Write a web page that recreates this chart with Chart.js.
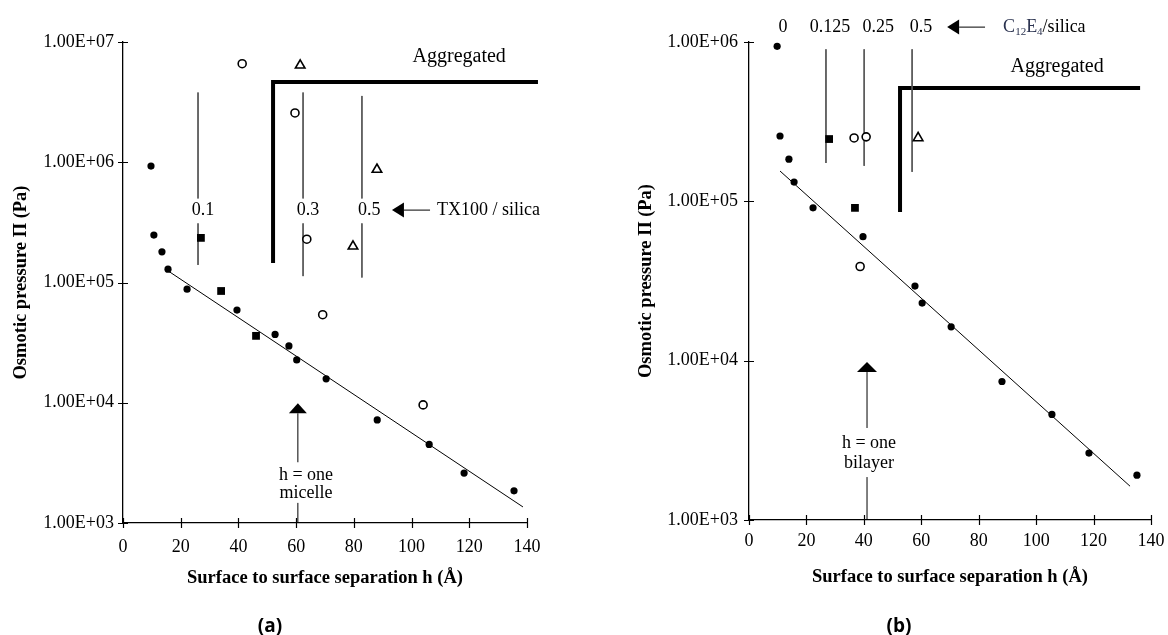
<!DOCTYPE html>
<html>
<head>
<meta charset="utf-8">
<script src="https://cdn.jsdelivr.net/npm/chart.js@4"></script>
<style>
  body { margin: 0; background: #fff; width: 1168px; height: 635px; position: relative; overflow: hidden; }
  canvas { position: absolute; top: 0; }
  #chartA { left: 0; }
  #chartB { left: 600px; }
  .cap { position: absolute; top: 612px; font: bold 19px "Open Sans", sans-serif; transform: translateX(-50%); }
</style>
</head>
<body>
<canvas id="chartA" width="584" height="635"></canvas>
<canvas id="chartB" width="568" height="635"></canvas>
<div class="cap" style="left:270px">(a)</div>
<div class="cap" style="left:899px">(b)</div>
<script>
Chart.defaults.font.family = '"Liberation Serif", "Times New Roman", serif';
Chart.defaults.color = '#000';

const xTicks = [0, 20, 40, 60, 80, 100, 120, 140];

// (a) TX100 / silica
const yTicksA = [1e3, 1e4, 1e5, 1e6, 1e7];
const yLabelsA = ['1.00E+03', '1.00E+04', '1.00E+05', '1.00E+06', '1.00E+07'];
const hA_filled = [9.7, 10.7, 13.5, 15.6, 22.2, 39.5, 52.7, 57.5, 60.2, 70.4, 88.1, 106.1, 118.2, 135.5];
const pA_filled = [9.3e5, 2.48e5, 1.8e5, 1.29e5, 8.8e4, 5.9e4, 3.7e4, 2.97e4, 2.27e4, 1.58e4, 7.2e3, 4.5e3, 2.6e3, 1.85e3];
const hA_square = [27, 34, 46.1];
const pA_square = [2.35e5, 8.5e4, 3.6e4];
const hA_open = [41.3, 59.6, 63.7, 69.2, 104];
const pA_open = [6.6e6, 2.57e6, 2.29e5, 5.4e4, 9.6e3];
const hA_tri = [61.4, 88, 79.7];
const pA_tri = [6.4e6, 8.7e5, 2.0e5];
const hA_fit = [15.6, 138.6];
const pA_fit = [1.25e5, 1.36e3];
const ratioA = ['0.1', '0.3', '0.5'];
const guideA_h = [26, 62.4, 82.8];
const guideA_top = [3.8e6, 3.8e6, 3.56e6];
const guideA_gapTop = [5.0e5, 5.0e5, 5.0e5];
const guideA_gapBot = [3.1e5, 3.1e5, 3.1e5];
const guideA_bot = [1.4e5, 1.13e5, 1.1e5];
const aggA_h = [52, 52, 143.8];
const aggA_p = [1.45e5, 4.64e6, 4.64e6];

// (b) C12E4 / silica
const yTicksB = [1e3, 1e4, 1e5, 1e6];
const yLabelsB = ['1.00E+03', '1.00E+04', '1.00E+05', '1.00E+06'];
const hB_filled = [9.8, 10.8, 13.9, 15.7, 22.3, 39.7, 57.8, 60.3, 70.4, 88.1, 105.5, 118.4, 135.1];
const pB_filled = [9.4e5, 2.57e5, 1.84e5, 1.32e5, 9.1e4, 6.0e4, 2.94e4, 2.3e4, 1.63e4, 7.4e3, 4.6e3, 2.63e3, 1.91e3];
const hB_square = [27.9, 36.9];
const pB_square = [2.46e5, 9.1e4];
const hB_open = [36.6, 40.8, 38.7];
const pB_open = [2.5e5, 2.54e5, 3.9e4];
const hB_tri = [58.9];
const pB_tri = [2.5e5];
const hB_fit = [10.8, 132.7];
const pB_fit = [1.55e5, 1.63e3];
const ratioB = ['0', '0.125', '0.25', '0.5'];
const guideB_h = [26.8, 40.1, 56.8];
const guideB_top = [9.0e5, 9.0e5, 9.0e5];
const guideB_bot = [1.74e5, 1.67e5, 1.53e5];
const aggB_h = [52.6, 52.6, 136.2];
const aggB_p = [8.57e4, 5.14e5, 5.14e5];

const pts = (xs, ys) => xs.map((x, i) => ({ x, y: ys[i] }));

function guideSegments(hs, cuts) {
  const out = [];
  hs.forEach((h, i) => {
    for (let k = 0; k < cuts.length; k += 2) {
      out.push({ x: h, y: cuts[k][i] }, { x: h, y: cuts[k + 1][i] }, { x: h, y: null });
    }
  });
  return out;
}

// ticks across the axes, arrows and text labels in data units
const annotPlugin = {
  id: 'annot',
  afterDraw(chart, args, o) {
    const ctx = chart.ctx, a = chart.chartArea;
    const sx = chart.scales.x, sy = chart.scales.y;
    const X = v => sx.getPixelForValue(v), Y = v => sy.getPixelForValue(v);
    ctx.save();
    ctx.strokeStyle = '#000';
    ctx.fillStyle = '#000';
    ctx.lineWidth = 1.2;
    ctx.beginPath();
    sy.ticks.forEach(t => {
      const p = Math.round(Y(t.value)) + 0.5;
      ctx.moveTo(a.left - 5, p); ctx.lineTo(a.left + 5, p);
    });
    sx.ticks.forEach(t => {
      const p = Math.round(X(t.value)) + 0.5;
      ctx.moveTo(p, a.bottom - 5); ctx.lineTo(p, a.bottom + 5);
    });
    ctx.stroke();

    ctx.lineWidth = 1;
    (o.stems || []).forEach(s => {
      ctx.beginPath();
      ctx.moveTo(X(s.x), Y(s.y1)); ctx.lineTo(X(s.x), Y(s.y2));
      ctx.stroke();
    });

    (o.arrows || []).forEach(ar => {
      const tx = X(ar.x), ty = Y(ar.y), ex = X(ar.x2), ey = Y(ar.y2);
      const d = Math.hypot(ex - tx, ey - ty), ux = (ex - tx) / d, uy = (ey - ty) / d;
      const bx = tx + ux * ar.len, by = ty + uy * ar.len;
      ctx.beginPath();
      ctx.moveTo(bx, by); ctx.lineTo(ex, ey);
      ctx.stroke();
      ctx.beginPath();
      ctx.moveTo(tx, ty);
      ctx.lineTo(bx - uy * ar.half, by + ux * ar.half);
      ctx.lineTo(bx + uy * ar.half, by - ux * ar.half);
      ctx.closePath();
      ctx.fill();
    });

    ctx.textBaseline = 'middle';
    ctx.textAlign = 'left';
    (o.texts || []).forEach(t => {
      const size = t.size || 18;
      const parts = t.parts || [{ t: t.text }];
      const fontOf = p => (p.sub ? Math.round(size * 0.62) : size) + 'px "Liberation Serif", serif';
      let w = 0;
      const widths = parts.map(p => { ctx.font = fontOf(p); const pw = ctx.measureText(p.t).width; w += pw; return pw; });
      let px = X(t.x);
      const py = Y(t.y);
      if (t.align === 'center') px -= w / 2;
      parts.forEach((p, i) => {
        ctx.font = fontOf(p);
        ctx.fillStyle = p.color || '#000';
        ctx.fillText(p.t, px, p.sub ? py + size * 0.3 : py);
        px += widths[i];
      });
    });
    ctx.restore();
  }
};

function makeScales(c) {
  return {
    x: {
      type: 'linear', min: 0, max: 140,
      afterBuildTicks: s => { s.ticks = xTicks.map(v => ({ value: v })); },
      afterFit: s => { s.height = c.xHeight; s.paddingLeft = 0; s.paddingRight = 0; },
      ticks: { callback: v => String(v), padding: c.xPad, font: { size: 18 }, color: '#000', maxRotation: 0, autoSkip: false },
      grid: { display: false, drawTicks: false },
      border: { color: '#000', width: 1.3 },
      title: {
        display: true, text: 'Surface to surface separation h (Å)', color: '#000',
        font: { size: 18.5, weight: 'bold' }, padding: { top: 0, bottom: c.xTitlePad }
      }
    },
    y: {
      type: 'logarithmic', min: c.yTicks[0], max: c.yTicks[c.yTicks.length - 1],
      afterBuildTicks: s => { s.ticks = c.yTicks.map(v => ({ value: v })); },
      afterFit: s => { s.width = c.yWidth; s.paddingTop = 0; s.paddingBottom = 0; },
      ticks: { callback: v => c.yLabels[c.yTicks.indexOf(v)], padding: c.yPad, font: { size: 18 }, color: '#000', autoSkip: false },
      grid: { display: false, drawTicks: false },
      border: { color: '#000', width: 1.3 },
      title: {
        display: true, text: 'Osmotic pressure Π (Pa)', color: '#000',
        font: { size: 18.5, weight: 'bold' }, padding: { top: c.yTitlePad, bottom: 0 }
      }
    }
  };
}

function makeDatasets(d) {
  return [
    { data: pts(d.hF, d.pF), pointStyle: 'circle', pointRadius: 3.6, backgroundColor: '#000', borderWidth: 0 },
    { data: pts(d.hS, d.pS), pointStyle: 'rect', pointRadius: 5.5, backgroundColor: '#000', borderWidth: 0 },
    { data: pts(d.hO, d.pO), pointStyle: 'circle', pointRadius: 4, backgroundColor: '#fff', borderColor: '#000', borderWidth: 1.6 },
    { data: pts(d.hT, d.pT), pointStyle: 'triangle', pointRadius: 5.5, backgroundColor: '#fff', borderColor: '#000', borderWidth: 1.6 },
    { data: pts(d.hFit, d.pFit), showLine: true, pointRadius: 0, borderColor: '#000', borderWidth: 1 },
    { data: d.guide, showLine: true, spanGaps: false, pointRadius: 0, borderColor: '#555', borderWidth: 1 },
    { data: pts(d.hAgg, d.pAgg), showLine: true, pointRadius: 0, borderColor: '#000', borderWidth: 4, borderJoinStyle: 'miter', clip: false }
  ];
}

function makeChart(id, d, s, annot) {
  return new Chart(document.getElementById(id), {
    type: 'scatter',
    data: { datasets: makeDatasets(d) },
    options: {
      responsive: false,
      animation: false,
      events: [],
      layout: { padding: s.padding },
      scales: makeScales(s),
      plugins: { legend: { display: false }, tooltip: { enabled: false }, annot }
    },
    plugins: [annotPlugin]
  });
}

makeChart('chartA',
  {
    hF: hA_filled, pF: pA_filled, hS: hA_square, pS: pA_square, hO: hA_open, pO: pA_open,
    hT: hA_tri, pT: pA_tri, hFit: hA_fit, pFit: pA_fit, hAgg: aggA_h, pAgg: aggA_p,
    guide: guideSegments(guideA_h, [guideA_top, guideA_gapTop, guideA_gapBot, guideA_bot])
  },
  {
    padding: { left: 0, right: 57, top: 42, bottom: 0 },
    yTicks: yTicksA, yLabels: yLabelsA, yWidth: 123, yPad: 9, yTitlePad: 10,
    xHeight: 112, xPad: 13, xTitlePad: 46
  },
  {
    texts: [
      { x: 27.7, y: 4.0e5, text: ratioA[0], align: 'center' },
      { x: 64.1, y: 4.0e5, text: ratioA[1], align: 'center' },
      { x: 85.3, y: 4.0e5, text: ratioA[2], align: 'center' },
      { x: 108.8, y: 4.0e5, text: 'TX100 / silica' },
      { x: 116.5, y: 7.5e6, text: 'Aggregated', align: 'center', size: 20 },
      { x: 63.4, y: 2.5e3, text: 'h = one', align: 'center', size: 18 },
      { x: 63.4, y: 1.78e3, text: 'micelle', align: 'center', size: 18 }
    ],
    arrows: [
      { x: 93.2, y: 4.0e5, x2: 106.4, y2: 4.0e5, len: 12, half: 7.5 },
      { x: 60.6, y: 9.9e3, x2: 60.6, y2: 3.2e3, len: 10, half: 9 }
    ],
    stems: [{ x: 60.6, y1: 1.47e3, y2: 1e3 }]
  }
);

makeChart('chartB',
  {
    hF: hB_filled, pF: pB_filled, hS: hB_square, pS: pB_square, hO: hB_open, pO: pB_open,
    hT: hB_tri, pT: pB_tri, hFit: hB_fit, pFit: pB_fit, hAgg: aggB_h, pAgg: aggB_p,
    guide: guideSegments(guideB_h, [guideB_top, guideB_bot])
  },
  {
    padding: { left: 0, right: 17, top: 42, bottom: 0 },
    yTicks: yTicksB, yLabels: yLabelsB, yWidth: 149, yPad: 11, yTitlePad: 35,
    xHeight: 115, xPad: 10, xTitlePad: 47
  },
  {
    texts: [
      { x: 11.8, y: 1.24e6, text: ratioB[0], align: 'center' },
      { x: 28.2, y: 1.24e6, text: ratioB[1], align: 'center' },
      { x: 45, y: 1.24e6, text: ratioB[2], align: 'center' },
      { x: 59.9, y: 1.24e6, text: ratioB[3], align: 'center' },
      { x: 88.5, y: 1.24e6, parts: [
        { t: 'C', color: '#2b3350' }, { t: '12', sub: true, color: '#2b3350' },
        { t: 'E', color: '#2b3350' }, { t: '4', sub: true, color: '#2b3350' }, { t: '/silica' }
      ] },
      { x: 107.3, y: 6.96e5, text: 'Aggregated', align: 'center', size: 20 },
      { x: 41.8, y: 3.04e3, text: 'h = one', align: 'center', size: 18 },
      { x: 41.8, y: 2.28e3, text: 'bilayer', align: 'center', size: 18 }
    ],
    arrows: [
      { x: 69, y: 1.24e6, x2: 82.2, y2: 1.24e6, len: 12, half: 7.5 },
      { x: 41.1, y: 9.8e3, x2: 41.1, y2: 3.78e3, len: 10, half: 10 }
    ],
    stems: [{ x: 41.1, y1: 1.86e3, y2: 1e3 }]
  }
);
</script>
</body>
</html>
